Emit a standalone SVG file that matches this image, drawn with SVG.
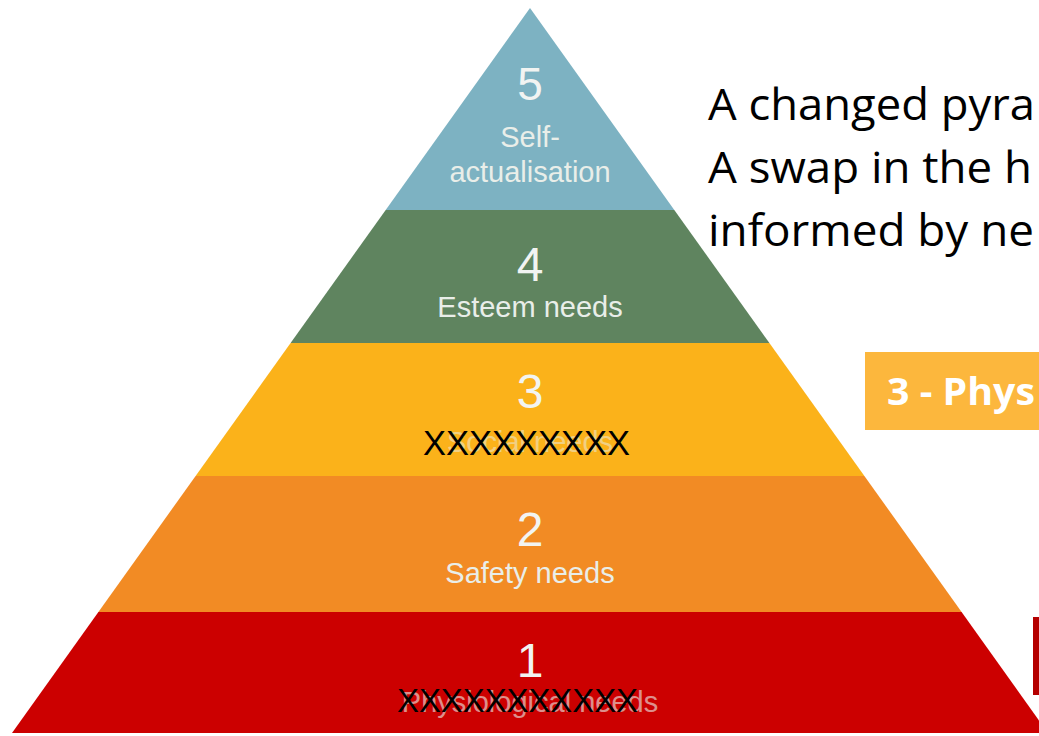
<svg xmlns="http://www.w3.org/2000/svg" width="1039" height="736" viewBox="0 0 1039 736">
<style>
.num{font-family:"Liberation Sans",Arial,sans-serif;font-size:48px;fill:#f2f4f2;text-anchor:middle}
.lbl{font-family:"Liberation Sans",Arial,sans-serif;font-size:29px;fill:#e9eee9;text-anchor:middle}
.xx{font-family:"Liberation Sans",Arial,sans-serif;fill:#000000}
.side{font-family:"Open Sans","Liberation Sans",sans-serif;font-size:44px;fill:#000000}
</style>
<rect x="0" y="0" width="1039" height="736" fill="#ffffff"/>
<g id="tier5">
<polygon points="530,8 674.3,210 385.7,210" fill="#7db2c2"/>
<text class="num" x="530" y="100" style="font-size:46px">5</text>
<text class="lbl" x="530" y="147">Self-</text>
<text class="lbl" x="530" y="182">actualisation</text>
</g>
<g id="tier4">
<polygon points="385.7,210 674.3,210 769.4,343 290.6,343" fill="#5f845f"/>
<text class="num" x="530" y="281">4</text>
<text class="lbl" x="530" y="317">Esteem needs</text>
</g>
<g id="tier3">
<polygon points="290.6,343 769.4,343 864.4,476 195.6,476" fill="#fbb21a"/>
<text class="num" x="530" y="408">3</text>
<text class="lbl" x="530" y="452" opacity="0.5">Social needs</text>
<text class="xx" x="423" y="455" style="font-size:34.5px" textLength="207" lengthAdjust="spacingAndGlyphs">XXXXXXXXX</text>
</g>
<g id="tier2">
<polygon points="195.6,476 864.4,476 961.6,612 98.4,612" fill="#f28b24"/>
<text class="num" x="530" y="546">2</text>
<text class="lbl" x="530" y="583">Safety needs</text>
</g>
<g id="tier1">
<polygon points="98.4,612 961.6,612 1048,733 12,733" fill="#cc0000"/>
<text class="num" x="530" y="677">1</text>
<text class="lbl" x="530" y="712" opacity="0.6">Physiological needs</text>
<text class="xx" x="397" y="712" style="font-size:33px" textLength="241" lengthAdjust="spacingAndGlyphs">XXXXXXXXXXX</text>
</g>
<g id="caption">
<text class="side" x="708" y="120" textLength="327" lengthAdjust="spacingAndGlyphs">A changed pyra</text>
<text class="side" x="708" y="183" textLength="324" lengthAdjust="spacingAndGlyphs">A swap in the h</text>
<text class="side" x="708" y="246" textLength="326" lengthAdjust="spacingAndGlyphs">informed by ne</text>
</g>
<g id="box3">
<rect x="865" y="352" width="180" height="78" fill="#fcb73d"/>
<text x="887" y="405" textLength="148" lengthAdjust="spacingAndGlyphs" style="font-family:'Open Sans','Liberation Sans',sans-serif;font-weight:bold;font-size:38px;fill:#ffffff">3 - Phys</text>
</g>
<g id="box1">
<rect x="1033" y="617" width="10" height="78" fill="#b50000"/>
</g>
<g id="connectors"/>
</svg>
